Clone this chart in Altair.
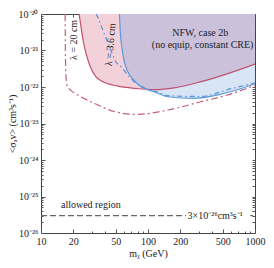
import altair as alt
import pandas as pd

# ---- data ----
# lambda = 20 cm, solid boundary (pink)
pink_m = [22.7, 23.6, 24.8, 26.7, 28.6, 32.4, 37.5, 51.2, 77.3, 117, 176, 306, 496, 1000]
pink_s = [1e-20, 4.68e-21, 1.82e-21, 7.24e-22, 3.89e-22, 1.95e-22, 1.41e-22, 1.07e-22,
          9.1e-23, 8.5e-23, 9.5e-23, 1.38e-22, 2.09e-22, 4.27e-22]
# lambda = 3.6 cm, solid boundary (blue)
blue_m = [54.1, 55.0, 56.7, 59.7, 65, 72.6, 82.7, 95, 117, 154, 267, 463, 748, 1000]
blue_s = [1e-20, 3.39e-21, 1.35e-21, 5.25e-22, 2.57e-22, 1.62e-22, 1.12e-22, 8.9e-23,
          7.2e-23, 5.4e-23, 4.9e-23, 6.2e-23, 9.1e-23, 1.23e-22]
# lambda = 3.6 cm, dash-dot (blue)
bdd_m = [32.8, 34.5, 39.1, 44.5, 49.3, 56.6, 67.3, 80.5, 95, 117, 154, 306, 610, 1000]
bdd_s = [1e-20, 7.2e-21, 2.82e-21, 1.10e-21, 5.25e-22, 3.47e-22, 1.86e-22, 1.17e-22,
         9.1e-23, 7.6e-23, 5.75e-23, 5.5e-23, 9.1e-23, 1.29e-22]
# lambda = 20 cm, dash-dot (pink)
pdd_m = [16.8, 16.9, 17.1, 17.5, 19.0, 20.9, 25.4, 31.6, 49.3, 77.3, 154, 306, 610, 1000]
pdd_s = [1e-20, 1e-21, 2.09e-22, 1.12e-22, 8.1e-23, 6.6e-23, 4.8e-23, 3.55e-23,
         2.09e-23, 1.78e-23, 2.34e-23, 3.89e-23, 6.6e-23, 1.12e-22]
# region excluded by both (upper envelope: blue boundary, then pink boundary)
both_m = blue_m[:8] + pink_m[9:]
both_s = blue_s[:8] + pink_s[9:]
# thermal cross-section line
thermal_m = [10, 226]
thermal_tail_m = [902, 960]
thermal_s = 3e-26

x_major = [10, 20, 50, 100, 200, 500, 1000]
x_minor = [30, 40, 60, 70, 80, 90, 300, 400, 600, 700, 800, 900]
y_major = [1e-26, 1e-25, 1e-24, 1e-23, 1e-22, 1e-21, 1e-20]
y_minor = [k * 10.0 ** n for n in range(-26, -20) for k in range(2, 10)]
y_labels = ["10⁻²⁶", "10⁻²⁵", "10⁻²⁴", "10⁻²³", "10⁻²²", "10⁻²¹", "10⁻²⁰"]

texts = ["allowed region", "NFW, case 2b", "(no equip, constant CRE)"]
text_m = [29.2, 308, 324]
text_s = [5.7e-26, 3.1e-21, 1.42e-21]

FONT = "Liberation Serif"
XDOM = [10, 1000]
YDOM = [1e-26, 1e-20]
W, H = 214, 219


def df(m, s):
    return pd.DataFrame({"m": m, "s": s})


common_axis = dict(domain=False, grid=False, tickColor="#555", labelFont=FONT,
                   labelFontSize=10, labelColor="#222", titleFont=FONT,
                   titleFontSize=10, titleColor="#222", titleFontWeight="normal",
                   labelFlush=False)


def xenc(axis):
    return alt.X("m:Q", scale=alt.Scale(type="log", domain=XDOM), axis=axis)


def yenc(axis):
    return alt.Y("s:Q", scale=alt.Scale(type="log", domain=YDOM), axis=axis)


ax_x_main = alt.Axis(orient="bottom", values=x_major, format="d", offset=-4, tickSize=4,
                     labelPadding=3, title="mᵪ (GeV)", titleX=W / 2, titleY=24,
                     titleBaseline="middle", **common_axis)
ax_y_main = alt.Axis(orient="left", values=y_major, offset=-4, tickSize=4, labelPadding=3,
                     labelExpr=str(y_labels) + "[round(log(datum.value)/LN10)+26]",
                     title="<σₐv> (cm³s⁻¹)", titleX=-32.5, titleY=H / 2, titleAngle=270,
                     titleAlign="center", titleBaseline="middle", **common_axis)
ax_x_minor = alt.Axis(orient="bottom", values=x_minor, offset=-2, tickSize=2, labels=False,
                      title=None, **common_axis)
ax_y_minor = alt.Axis(orient="left", values=y_minor, offset=-2, tickSize=2, labels=False,
                      title=None, **common_axis)
ax_x_top = alt.Axis(orient="top", values=x_major + x_minor, offset=-3, tickSize=3,
                    labels=False, title=None, **common_axis)
ax_y_right = alt.Axis(orient="right", values=y_major + y_minor, offset=-3, tickSize=3,
                      labels=False, title=None, **common_axis)

pink_area = alt.Chart(df(pink_m, pink_s)).mark_area(
    color="#f3d1db", opacity=1, interpolate="monotone", clip=True
).encode(x=xenc(ax_x_main), y=yenc(ax_y_main), y2=alt.datum(1e-20))

blue_area = alt.Chart(df(blue_m, blue_s)).mark_area(
    color="#d8e5f7", opacity=1, interpolate="monotone", clip=True
).encode(x=xenc(ax_x_minor), y=yenc(ax_y_minor), y2=alt.datum(1e-20))

both_area = alt.Chart(df(both_m, both_s)).mark_area(
    color="#cbc1db", opacity=1, interpolate="monotone", clip=True
).encode(x=xenc(None), y=yenc(None), y2=alt.datum(1e-20))

pink_line = alt.Chart(df(pink_m, pink_s)).mark_line(
    color="#c0506f", strokeWidth=1.2, interpolate="monotone", clip=True
).encode(x=xenc(ax_x_top), y=yenc(ax_y_right))

blue_line = alt.Chart(df(blue_m, blue_s)).mark_line(
    color="#5b9ad8", strokeWidth=1.2, interpolate="monotone", clip=True
).encode(x=xenc(None), y=yenc(None))

pink_dd = alt.Chart(df(pdd_m, pdd_s)).mark_line(
    color="#c4607f", strokeWidth=1.2, strokeDash=[7, 3, 2, 3], interpolate="monotone", clip=True
).encode(x=xenc(None), y=yenc(None))

blue_dd = alt.Chart(df(bdd_m, bdd_s)).mark_line(
    color="#5590d4", strokeWidth=1.2, strokeDash=[5, 3, 1.5, 3], interpolate="monotone", clip=True
).encode(x=xenc(None), y=yenc(None))

thermal = alt.Chart(df(thermal_m, [thermal_s] * 2)).mark_line(
    color="#666", strokeWidth=1.2, strokeDash=[6, 3]
).encode(x=xenc(None), y=yenc(None))

thermal_tail = alt.Chart(df(thermal_tail_m, [thermal_s] * 2)).mark_line(
    color="#666", strokeWidth=1.2
).encode(x=xenc(None), y=yenc(None))

thermal_text = alt.Chart(pd.DataFrame({"m": [234], "s": [thermal_s],
                                       "t": ["3×10⁻²⁶cm³s⁻¹"]})).mark_text(
    font=FONT, fontSize=10, align="left", baseline="middle", color="#222"
).encode(x=xenc(None), y=yenc(None), text="t:N")

labels = alt.Chart(pd.DataFrame({"m": text_m, "s": text_s, "t": texts})).mark_text(
    font=FONT, fontSize=10, align="center", baseline="middle", color="#222"
).encode(x=xenc(None), y=yenc(None), text="t:N")

lam20 = alt.Chart(pd.DataFrame({"m": [20.2], "s": [1.94e-21], "t": ["λ = 20 cm"]})).mark_text(
    font=FONT, fontSize=10, align="center", baseline="middle", angle=270, color="#222"
).encode(x=xenc(None), y=yenc(None), text="t:N")

lam36 = alt.Chart(pd.DataFrame({"m": [44.7], "s": [1.45e-21], "t": ["λ = 3.6 cm"]})).mark_text(
    font=FONT, fontSize=10, align="center", baseline="middle", angle=275, color="#222"
).encode(x=xenc(None), y=yenc(None), text="t:N")

chart = alt.layer(
    pink_area, blue_area, both_area, pink_line, blue_line, pink_dd, blue_dd,
    thermal, thermal_tail, thermal_text, labels, lam20, lam36
).resolve_axis(x="independent", y="independent").properties(
    width=W, height=H,
    autosize=alt.AutoSizeParams(type="none"),
    padding={"left": 33, "top": 6, "right": 11, "bottom": 27},
).configure_view(stroke="#444", strokeWidth=1)

chart.save("out.html", embed_options={"renderer": "svg", "actions": False})
